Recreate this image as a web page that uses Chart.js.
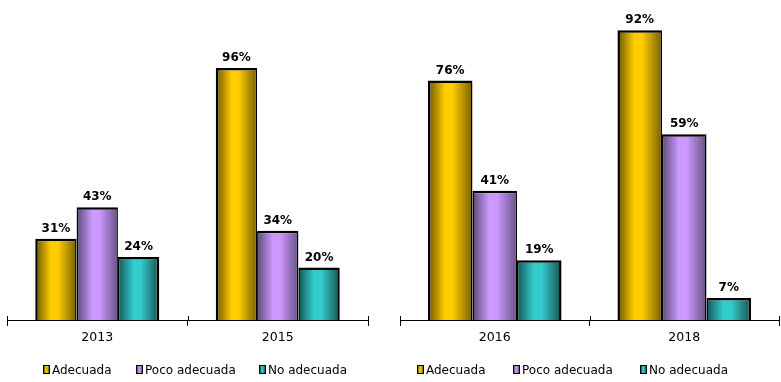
<!DOCTYPE html>
<html>
<head>
<meta charset="utf-8">
<script src="https://cdn.jsdelivr.net/npm/chart.js@4/dist/chart.umd.min.js"></script>
<style>
  html, body { margin:0; padding:0; background:#fff; width:781px; height:382px; overflow:hidden; }
  .wrap { position:absolute; top:0; height:382px; }
  .lg { position:absolute; font-family:"DejaVu Sans", Verdana, sans-serif; font-size:12px; line-height:14px; color:#000; white-space:nowrap; }
  .mk { position:absolute; box-sizing:border-box; width:7px; height:9px; border:1px solid #000; }
</style>
</head>
<body>
<div class="wrap" style="left:0;width:390px;"><canvas id="c1" width="390" height="382"></canvas></div>
<div class="wrap" style="left:390px;width:391px;"><canvas id="c2" width="391" height="382"></canvas></div>
<div id="legends"></div>
<script>
// ---- data ----
const seriesNames = ['Adecuada', 'Poco adecuada', 'No adecuada'];
const leftCategories = ['2013', '2015'];
const leftAdecuada = [31, 96];
const leftPoco = [43, 34];
const leftNo = [24, 20];
const rightCategories = ['2016', '2018'];
const rightAdecuada = [76, 92];
const rightPoco = [41, 59];
const rightNo = [19, 7];

// ---- styles ----
const gradStops = [
  [[0,'#6a5400'],[0.38,'#ffcc00'],[0.55,'#ffcc00'],[1,'#776000']],
  [[0,'#5a4b76'],[0.38,'#cc99ff'],[0.55,'#cc99ff'],[1,'#685285']],
  [[0,'#125656'],[0.38,'#33cccc'],[0.55,'#33cccc'],[1,'#185252']]
];
const flatColors = ['#ffcc00','#cc99ff','#33cccc'];
const FONT = '"DejaVu Sans", Verdana, sans-serif';

function makeGradient(ctx, dsIndex, catPct, nSeries) {
  const chart = ctx.chart;
  if (ctx.type !== 'data' || !chart.chartArea) return flatColors[dsIndex];
  const xs = chart.scales.x;
  const n = chart.data.labels.length;
  const catW = n > 1 ? (xs.getPixelForValue(1) - xs.getPixelForValue(0)) : (xs.right - xs.left);
  const barW = catW * catPct / nSeries;
  const center = xs.getPixelForValue(ctx.dataIndex);
  const left = center - catW * catPct / 2 + dsIndex * barW;
  const g = chart.ctx.createLinearGradient(left, 0, left + barW, 0);
  gradStops[dsIndex].forEach(s => g.addColorStop(s[0], s[1]));
  return g;
}

const labelPlugin = {
  id: 'valLabels',
  afterDatasetsDraw(chart) {
    const c = chart.ctx;
    c.save();
    c.font = 'bold 12px ' + FONT;
    c.fillStyle = '#000';
    c.textAlign = 'center';
    c.textBaseline = 'alphabetic';
    chart.data.datasets.forEach((ds, i) => {
      chart.getDatasetMeta(i).data.forEach((el, j) => {
        c.fillText(ds.data[j] + '%', el.x, el.y - 7);
      });
    });
    c.restore();
  }
};

const tickUpPlugin = {
  id: 'tickUp',
  afterDraw(chart) {
    const xs = chart.scales.x;
    const c = chart.ctx;
    const bottom = chart.chartArea.bottom;
    const pts = [xs.left, xs.right];
    for (let i = 0; i < xs.ticks.length - 1; i++) {
      pts.push((xs.getPixelForTick(i) + xs.getPixelForTick(i + 1)) / 2);
    }
    c.save();
    c.strokeStyle = '#000';
    c.lineWidth = 1;
    pts.forEach(p => {
      const x = Math.round(p) + 0.5;
      c.beginPath();
      c.moveTo(x, bottom - 4);
      c.lineTo(x, bottom);
      c.stroke();
    });
    c.restore();
  }
};

function buildChart(id, cats, a, p, nA, yMax, catPct, pad) {
  const vals = [a, p, nA];
  const bw = [
    {top:2.5, left:2.5, right:1.5, bottom:0},
    {top:2.5, left:1.5, right:1.5, bottom:0},
    {top:2.5, left:1.5, right:2.5, bottom:0}
  ];
  return new Chart(document.getElementById(id), {
    type: 'bar',
    data: {
      labels: cats,
      datasets: seriesNames.map((name, i) => ({
        label: name,
        data: vals[i],
        backgroundColor: (ctx) => makeGradient(ctx, i, catPct, 3),
        borderColor: '#000',
        borderWidth: bw[i],
        borderSkipped: 'start',
        categoryPercentage: catPct,
        barPercentage: 1
      }))
    },
    options: {
      responsive: false,
      devicePixelRatio: 1,
      animation: false,
      layout: { padding: pad },
      plugins: { legend: { display: false }, tooltip: { enabled: false } },
      scales: {
        y: { display: false, min: 0, max: yMax },
        x: {
          afterFit(scale) { scale.height = 62; },
          grid: { offset: true, drawOnChartArea: false, drawTicks: true, tickLength: 6, color: '#000', lineWidth: 1 },
          border: { display: true, color: '#000', width: 1 },
          ticks: { color: '#000', font: { family: FONT, size: 12.5 }, padding: 4, maxRotation: 0 }
        }
      }
    },
    plugins: [labelPlugin, tickUpPlugin]
  });
}

buildChart('c1', leftCategories, leftAdecuada, leftPoco, leftNo, 120, 0.687, {left:7, right:22, top:5, bottom:0});
buildChart('c2', rightCategories, rightAdecuada, rightPoco, rightNo, 100, 0.705, {left:10, right:2, top:5, bottom:0});

// ---- HTML legends ----
const legendStarts = [[43, 136, 259], [417, 513, 640]];
const lgHost = document.getElementById('legends');
function cssGrad(i) {
  return 'linear-gradient(to right,' + gradStops[i].map(s => s[1] + ' ' + (s[0]*100) + '%').join(',') + ')';
}
legendStarts.forEach(row => {
  row.forEach((x, i) => {
    const m = document.createElement('div');
    m.className = 'mk';
    m.style.left = x + 'px';
    m.style.top = '365px';
    m.style.background = cssGrad(i);
    lgHost.appendChild(m);
    const t = document.createElement('div');
    t.className = 'lg';
    t.style.left = (x + 9) + 'px';
    t.style.top = '363px';
    t.textContent = seriesNames[i];
    lgHost.appendChild(t);
  });
});
</script>
</body>
</html>
